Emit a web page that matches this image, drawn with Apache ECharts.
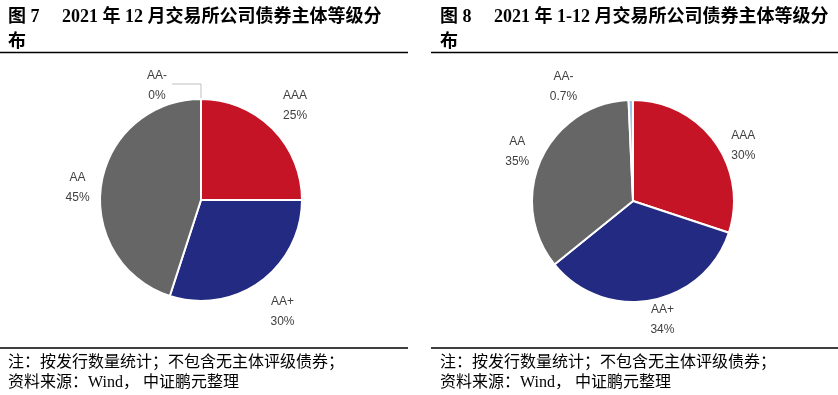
<!DOCTYPE html>
<html>
<head>
<meta charset="utf-8">
<script src="https://cdn.jsdelivr.net/npm/echarts@6/dist/echarts.min.js"></script>
<style>
html,body{margin:0;padding:0;background:#fff;}
#chart{width:838px;height:395px;}
</style>
</head>
<body>
<div id="chart"></div>
<script>
// ---- data ----
const categories = ['AAA', 'AA+', 'AA', 'AA-'];
const valuesDec2021 = [25, 30, 45, 0];          // 图7 2021年12月 (%)
const valuesJanDec2021 = [30, 34, 35, 0.7];     // 图8 2021年1-12月 (%)
const title7 = ['图 7\u3000 2021 年 12 月交易所公司债券主体等级分', '布'];
const title8 = ['图 8\u3000 2021 年 1-12 月交易所公司债券主体等级分', '布'];
const noteLines = ['注：按发行数量统计；不包含无主体评级债券；', '资料来源：Wind， 中证鹏元整理'];

// ---- styles ----
const colors = ['#C41425', '#232A82', '#666666', '#9DC3E6'];
// label line lengths per slice [length, length2]
const labelLen7 = [[32, 0], [36, 0], [25, 0], [15, 29]];
const labelLen8 = [[24, 0], [19, 0], [26, 0], [16, 52]];
const showLine7 = [false, false, false, true];
const showLine8 = [false, false, false, false];
// small label nudges [dx, dy]
const labelShift7 = [[0, 0], [1, 1], [1, 7], [0, 2]];
const labelShift8 = [[9, 18], [8, 1], [0, 3], [0, 3]];

function buildData(values, lens, lines) {
  return categories.map((name, i) => ({
    name: name,
    value: values[i],
    itemStyle: { color: colors[i] },
    labelLine: {
      show: lines[i],
      length: lens[i][0],
      length2: lens[i][1],
      lineStyle: { color: '#BFBFBF', width: 1 }
    }
  }));
}

function pieSeries(center, values, lens, lines, shifts) {
  return {
    type: 'pie',
    center: center,
    radius: 101,
    startAngle: 90,
    clockwise: true,
    avoidLabelOverlap: false,
    animation: false,
    itemStyle: { borderColor: '#ffffff', borderWidth: 2 },
    label: {
      show: true,
      position: 'outside',
      distanceToLabelLine: 0,
      color: '#404040',
      fontSize: 12,
      fontFamily: '"Liberation Sans", "DejaVu Sans", sans-serif',
      formatter: function (p) { return '{t|' + p.name + '}\n{t|' + p.value + '%}'; },
      rich: { t: { width: 30, align: 'center', lineHeight: 20, fontSize: 12, color: '#404040',
                   fontFamily: '"Liberation Sans", "DejaVu Sans", sans-serif' } }
    },
    labelLayout: function (params) {
      const s = shifts[params.dataIndex];
      if (params.dataIndex === 3) return { dx: s[0], dy: s[1] };
      return { align: 'center', dx: s[0], dy: s[1] };
    },
    emphasis: { disabled: true },
    data: buildData(values, lens, lines)
  };
}

const titleFont = 'bold 18px "Liberation Serif", "Noto Sans CJK SC", serif';
const noteFont = '16px "Liberation Serif", "Noto Sans CJK SC", serif';

function textEl(text, x, y, font) {
  return { type: 'text', left: x, top: y, silent: true,
           style: { text: text, font: font, fill: '#000000' } };
}
function hLine(x1, x2, y) {
  return { type: 'line', silent: true, shape: { x1: x1, y1: y, x2: x2, y2: y },
           style: { stroke: '#000000', lineWidth: 1.5 } };
}

const chart = echarts.init(document.getElementById('chart'), null, { renderer: 'canvas' });
chart.setOption({
  backgroundColor: '#ffffff',
  animation: false,
  graphic: [
    textEl(title7[0], 8, 8, titleFont),
    textEl(title7[1], 8, 33, titleFont),
    textEl(title8[0], 440, 8, titleFont),
    textEl(title8[1], 440, 33, titleFont),
    hLine(0, 408, 52.5),
    hLine(431, 838, 52.5),
    hLine(0, 408, 348),
    hLine(431, 838, 348),
    textEl(noteLines[0], 8, 355, noteFont),
    textEl(noteLines[1], 8, 375, noteFont),
    textEl(noteLines[0], 440, 355, noteFont),
    textEl(noteLines[1], 440, 375, noteFont)
  ],
  series: [
    pieSeries([201, 200], valuesDec2021, labelLen7, showLine7, labelShift7),
    pieSeries([633, 201], valuesJanDec2021, labelLen8, showLine8, labelShift8)
  ]
});
</script>
</body>
</html>
